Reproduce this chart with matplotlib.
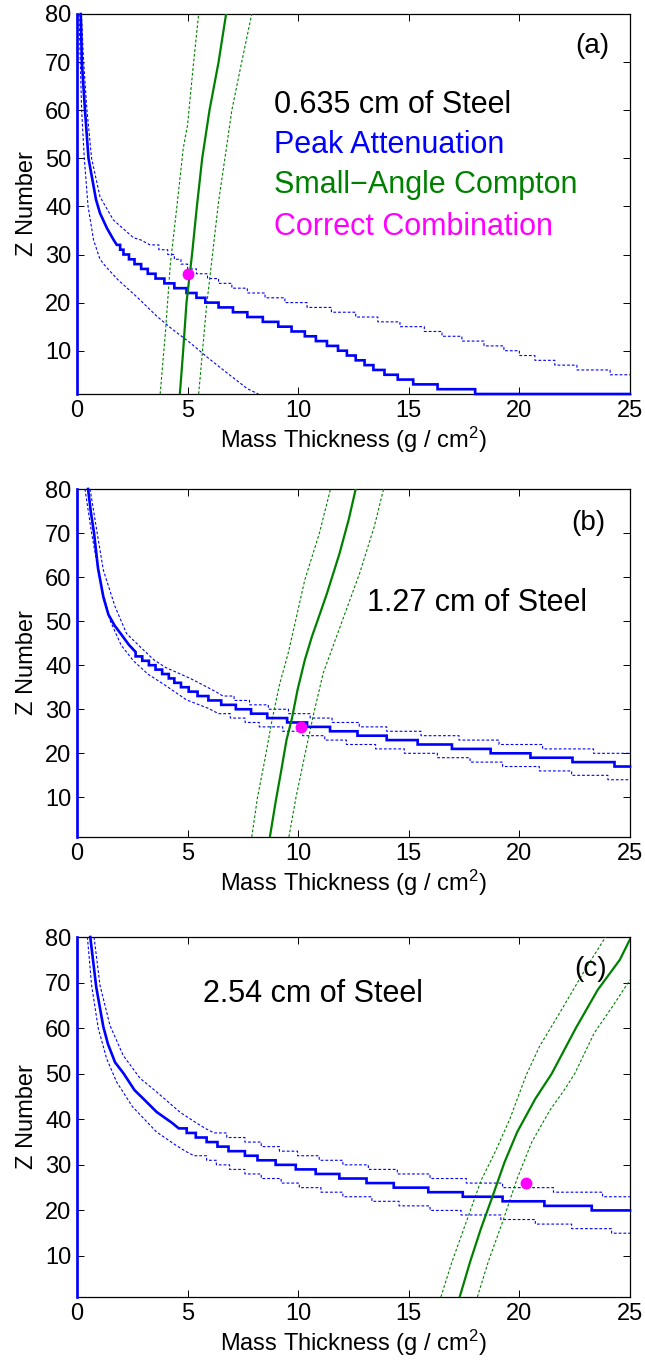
import matplotlib
matplotlib.use("Agg")
import matplotlib.pyplot as plt

plt.rcParams['font.family'] = ['Liberation Sans', 'DejaVu Sans']
plt.rcParams['mathtext.fontset'] = 'custom'
plt.rcParams['mathtext.rm'] = 'Liberation Sans'
plt.rcParams['mathtext.it'] = 'Liberation Sans:italic'
plt.rcParams['mathtext.bf'] = 'Liberation Sans:bold'

# ---------------- data ----------------
x_ticks = [0, 5, 10, 15, 20, 25]
z_ticks = [10, 20, 30, 40, 50, 60, 70, 80]
panel_tags = ['(a)', '(b)', '(c)']
steel_labels = ['0.635 cm of Steel', '1.27 cm of Steel', '2.54 cm of Steel']
legend_texts = ['Peak Attenuation', 'Small\u2212Angle Compton', 'Correct Combination']

edge_x = [0, 0]
edge_z = [1, 80]

# Panel (a) -- peak attenuation (solid): smooth part + integer-Z step levels
a_pk_sx = [0.17, 0.22, 0.36, 0.52, 0.86, 1.04, 1.35, 1.66]
a_pk_sz = [80, 70, 60, 50, 41.4, 38.6, 35.5, 33]
a_pk_lv = [32, 31, 30, 29, 28, 27, 26, 25, 24, 23, 22, 21, 20, 19, 18, 17,
           16, 15, 14, 13, 12, 11, 10, 9, 8, 7, 6, 5, 4, 3, 2, 1]
a_pk_lx = [1.8, 1.95, 2.1, 2.35, 2.6, 2.9, 3.2, 3.55, 3.95, 4.4, 4.95, 5.4,
           5.8, 6.4, 7.05, 7.7, 8.4, 9.1, 9.7, 10.3, 10.8, 11.3, 11.8, 12.2,
           12.6, 13.0, 13.4, 13.9, 14.5, 15.2, 16.3, 18.0]
# upper bound (dotted)
a_up_sx = [0.2, 0.3, 0.45, 0.66, 1.04, 1.64, 2.55, 2.9]
a_up_sz = [80, 70, 60, 50, 42, 37.2, 33.5, 33]
a_up_lv = [32, 31, 30, 29, 28, 27, 26, 25, 24, 23, 22, 21, 20, 19, 18, 17,
           16, 15, 14, 13, 12, 11, 10, 9, 8, 7, 6, 5]
a_up_lx = [3.3, 3.7, 4.1, 4.4, 4.7, 5.0, 5.4, 5.9, 6.4, 7.0, 7.7, 8.5, 9.4,
           10.4, 11.5, 12.6, 13.6, 14.6, 15.7, 16.5, 17.4, 18.4, 19.3, 20.0,
           20.7, 21.6, 22.6, 24.1]
# lower bound (dotted)
a_lo_sx = [0.09, 0.15, 0.21, 0.33, 0.5, 0.75, 1.04, 1.3, 1.84, 2.75, 3.6,
           4.3, 5.1, 5.9, 6.75, 7.7, 8.2]
a_lo_sz = [80, 70, 60, 50, 40, 33, 29, 27.5, 24.8, 21, 17.2, 14.5, 11.7,
           8.6, 5.5, 2.1, 1]
a_lo_lv = []
a_lo_lx = []
# small-angle Compton
a_sc_x = [4.65, 4.8, 4.95, 5.2, 5.42, 5.66, 5.99, 6.4, 6.74]
a_sc_z = [1, 10, 20, 30, 40, 50, 60, 70, 80]
a_scl_x = [3.76, 4.0, 4.22, 4.54, 4.8, 5.0, 5.25, 5.5]
a_scl_z = [1, 14, 28, 41, 52, 57, 69, 80]
a_scr_x = [5.5, 5.85, 6.1, 6.4, 6.75, 7.0, 7.4, 7.9]
a_scr_z = [1, 19, 29, 41, 52, 60, 69, 80]
a_dot = (5.03, 26)

# Panel (b)
b_pk_sx = [0.5, 0.62, 0.77, 0.95, 1.19, 1.42, 1.7, 2.0, 2.35, 2.65]
b_pk_sz = [80, 75, 70, 62, 55.5, 51.5, 49, 47, 44.6, 43]
b_pk_lv = [42, 41, 40, 39, 38, 37, 36, 35, 34, 33, 32, 31, 30, 29, 28, 27,
           26, 25, 24, 23, 22, 21, 20, 19, 18, 17]
b_pk_lx = [2.65, 2.95, 3.25, 3.55, 3.85, 4.15, 4.4, 4.7, 5.05, 5.45, 5.94,
           6.52, 7.18, 7.87, 8.6, 9.5, 10.4, 11.44, 12.68, 14.0, 15.4, 16.95,
           18.7, 20.5, 22.4, 24.3]
b_up_sx = [0.59, 0.89, 1.19, 1.72, 2.24, 2.85, 3.48, 4.0, 4.63, 5.12, 5.7, 6.27]
b_up_sz = [80, 70.7, 61.6, 53.3, 47.2, 44.2, 41.2, 39.5, 38.1, 37.0, 35.5, 34.0]
b_up_lv = [33, 32, 31, 30, 29, 28, 27, 26, 25, 24, 23, 22, 21, 20]
b_up_lx = [6.6, 7.1, 7.8, 8.65, 9.56, 10.54, 11.53, 12.76, 14.0, 15.55,
           17.27, 19.08, 21.05, 23.35]
b_lo_sx = [0.36, 0.66, 1.04, 1.49, 2.0, 2.55, 3.2, 3.97, 4.96, 5.94]
b_lo_sz = [80, 70, 59.3, 50.2, 44.5, 41.0, 38.0, 35.5, 32.1, 30.2]
b_lo_lv = [29, 28, 27, 26, 25, 24, 23, 22, 21, 20, 19, 18, 17, 16, 15, 14]
b_lo_lx = [6.4, 6.93, 7.6, 8.24, 9.3, 10.2, 11.2, 12.18, 13.5, 14.8, 16.29,
           17.77, 19.24, 20.9, 22.36, 24.0]
b_sc_x = [8.72, 8.98, 9.23, 9.47, 9.72, 9.97, 10.3, 10.62, 10.9, 11.3, 11.87,
          12.28, 12.6]
b_sc_z = [1, 9, 16, 23, 28, 34.4, 41.2, 46.5, 50.5, 56.3, 65.4, 73, 80]
b_scl_x = [7.9, 8.16, 8.49, 8.82, 9.15, 9.56, 9.89, 10.3, 10.96, 11.46]
b_scl_z = [1, 10, 18.5, 27.6, 35.5, 43, 50.3, 59.4, 70, 80]
b_scr_x = [9.58, 9.9, 10.38, 10.7, 11.13, 11.95, 12.78, 13.44, 13.86]
b_scr_z = [1, 10, 21.5, 29, 38.2, 49.5, 60.9, 71.5, 80]
b_dot = (10.13, 26)

# Panel (c)
c_pk_sx = [0.6, 0.87, 1.19, 1.4, 1.72, 2.1, 2.6, 3.0, 3.6, 4.3]
c_pk_sz = [80, 69, 60.3, 56.5, 52.5, 50.1, 46.4, 44.5, 41.6, 39.2]
c_pk_lv = [38, 37, 36, 35, 34, 33, 32, 31, 30, 29, 28, 27, 26, 25, 24, 23,
           22, 21, 20]
c_pk_lx = [4.6, 4.96, 5.37, 5.86, 6.35, 6.85, 7.59, 8.16, 8.98, 9.89, 10.79,
           11.86, 13.09, 14.32, 15.88, 17.44, 19.24, 21.13, 23.27]
c_up_sx = [0.77, 1.04, 1.49, 2.09, 2.85, 3.6, 4.67, 5.3, 5.8]
c_up_sz = [80, 69.4, 60.6, 54, 49, 46, 41.5, 39.5, 38]
c_up_lv = [37, 36, 35, 34, 33, 32, 31, 30, 29, 28, 27, 26, 25, 24, 23]
c_up_lx = [6.2, 6.77, 7.59, 8.33, 9.15, 9.97, 10.95, 12.02, 13.17, 14.48,
           15.96, 17.6, 19.24, 21.54, 23.76]
c_lo_sx = [0.47, 0.66, 0.96, 1.34, 1.79, 2.5, 3.6, 4.47, 4.9]
c_lo_sz = [80, 69.4, 60, 53.3, 48.2, 42.8, 37.2, 34.3, 33]
c_lo_lv = [32, 31, 30, 29, 28, 27, 26, 25, 24, 23, 22, 21, 20, 19, 18, 17,
           16, 15]
c_lo_lx = [5.29, 5.86, 6.3, 6.9, 7.59, 8.33, 9.23, 10.05, 11.03, 12.02,
           13.33, 14.56, 15.96, 17.36, 19.16, 20.72, 22.36, 24.17]
c_sc_x = [17.3, 17.77, 18.26, 18.75, 19.33, 19.9, 20.72, 21.46, 22.55, 23.54,
          24.54, 25.0]
c_sc_z = [1, 8.7, 16, 22.6, 30.6, 37.2, 44.5, 50, 60, 68.4, 75, 79.5]
c_scl_x = [16.45, 16.95, 17.6, 18.26, 18.92, 19.57, 20.3, 20.9, 21.9, 23.05,
           23.9]
c_scl_z = [1, 8.7, 17.5, 26.5, 33, 40.1, 49.6, 55.9, 64, 73.5, 80]
c_scr_x = [18.1, 18.59, 19.24, 19.9, 20.56, 21.38, 22.04, 22.5, 23.38, 24.2,
           25.0]
c_scr_z = [1, 8.7, 17.5, 27, 35, 42, 46.5, 50, 58.9, 64.7, 70.6]
c_dot = (20.3, 26)

# ---------------- helpers ----------------
X_END = 25.0


def staircase(sx, sz, lv, lx):
    xs, zs = list(sx), list(sz)
    for i, (z, x0) in enumerate(zip(lv, lx)):
        x1 = lx[i + 1] if i + 1 < len(lx) else X_END
        xs += [x0, x1]
        zs += [z, z]
    return xs, zs


BLUE = '#0000ff'
GREEN = '#008000'
MAGENTA = '#ff00ff'

panels = [
    dict(pk=(a_pk_sx, a_pk_sz, a_pk_lv, a_pk_lx), up=(a_up_sx, a_up_sz, a_up_lv, a_up_lx),
         lo=(a_lo_sx, a_lo_sz, a_lo_lv, a_lo_lx), sc=(a_sc_x, a_sc_z),
         scl=(a_scl_x, a_scl_z), scr=(a_scr_x, a_scr_z), dot=a_dot),
    dict(pk=(b_pk_sx, b_pk_sz, b_pk_lv, b_pk_lx), up=(b_up_sx, b_up_sz, b_up_lv, b_up_lx),
         lo=(b_lo_sx, b_lo_sz, b_lo_lv, b_lo_lx), sc=(b_sc_x, b_sc_z),
         scl=(b_scl_x, b_scl_z), scr=(b_scr_x, b_scr_z), dot=b_dot),
    dict(pk=(c_pk_sx, c_pk_sz, c_pk_lv, c_pk_lx), up=(c_up_sx, c_up_sz, c_up_lv, c_up_lx),
         lo=(c_lo_sx, c_lo_sz, c_lo_lv, c_lo_lx), sc=(c_sc_x, c_sc_z),
         scl=(c_scl_x, c_scl_z), scr=(c_scr_x, c_scr_z), dot=c_dot),
]

W, H = 645, 1365
fig = plt.figure(figsize=(W / 100, H / 100), dpi=100)
# axes boxes in pixels: (left, top, right, bottom)
boxes = [(77, 14, 630, 394), (77, 489, 630, 837), (77, 937, 630, 1297)]
tag_pos = [(0.931, 0.916), (0.925, 0.903), (0.928, 0.912)]

dotted = (0, (2.5, 1.8))
for i, (p, box) in enumerate(zip(panels, boxes)):
    l, t, r, b = box
    ax = fig.add_axes([l / W, 1 - b / H, (r - l) / W, (b - t) / H])
    ax.set_xlim(0, 25)
    ax.set_ylim(1, 80)

    # dotted bounds
    for key in ('up', 'lo'):
        xs, zs = staircase(*p[key])
        ax.plot(xs, zs, color=BLUE, lw=0.8, ls=dotted, zorder=3)
    ax.plot(*p['scl'], color=GREEN, lw=0.8, ls=dotted, zorder=3)
    ax.plot(*p['scr'], color=GREEN, lw=0.8, ls=dotted, zorder=3)
    # solid curves
    xs, zs = staircase(*p['pk'])
    ax.plot(xs, zs, color=BLUE, lw=1.9, zorder=4, clip_on=False,
            solid_joinstyle='miter')
    ax.plot(edge_x, edge_z, color=BLUE, lw=1.9, zorder=4, clip_on=False)
    ax.plot(*p['sc'], color=GREEN, lw=1.6, zorder=4)
    ax.plot([p['dot'][0]], [p['dot'][1]], 'o', color=MAGENTA, ms=7.5,
            mec=MAGENTA, zorder=5)

    ax.set_xticks(x_ticks)
    ax.set_yticks(z_ticks)
    ax.tick_params(direction='in', top=True, right=True, length=5, width=0.7,
                   labelsize=17, pad=4, colors='black')
    for s in ax.spines.values():
        s.set_linewidth(0.9)
    ax.set_xlabel('Mass Thickness (g / cm$^2$)', fontsize=17, labelpad=2)
    ax.set_ylabel('Z Number', fontsize=17, labelpad=5)

    ax.text(tag_pos[i][0], tag_pos[i][1], panel_tags[i], transform=ax.transAxes,
            ha='center', va='center', fontsize=20)

# annotation texts
axs = fig.axes
FS = 22
axs[0].text(8.9, 61.1, steel_labels[0], ha='left', va='center', fontsize=FS, color='black')
axs[0].text(8.9, 52.8, legend_texts[0], ha='left', va='center', fontsize=FS, color=BLUE)
axs[0].text(8.9, 44.5, legend_texts[1], ha='left', va='center', fontsize=FS, color=GREEN)
axs[0].text(8.9, 35.8, legend_texts[2], ha='left', va='center', fontsize=FS, color=MAGENTA)
axs[1].text(13.1, 54.1, steel_labels[1], ha='left', va='center', fontsize=FS, color='black')
axs[2].text(5.7, 67.6, steel_labels[2], ha='left', va='center', fontsize=FS, color='black')

fig.savefig('out.png', dpi=100)
